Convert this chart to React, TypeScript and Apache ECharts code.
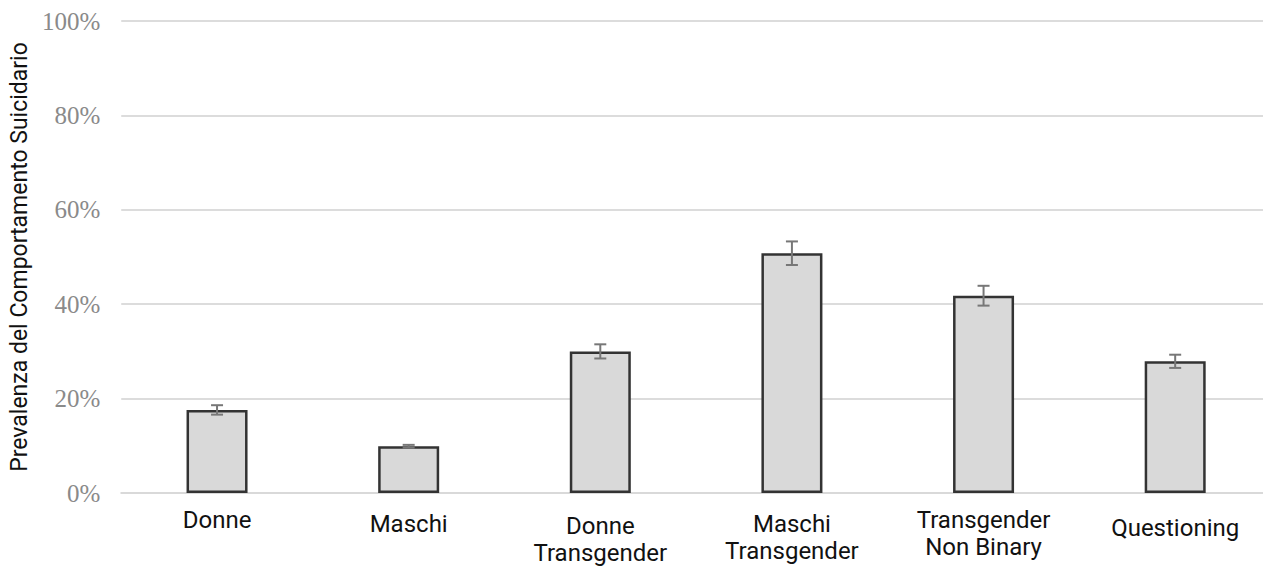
import React, { useEffect, useRef } from "react";
import * as echarts from "echarts";

// Prevalence of suicidal behaviour by group (%), with error margins
const categories = [
  "Donne",
  "Maschi",
  "Donne\nTransgender",
  "Maschi\nTransgender",
  "Transgender\nNon Binary",
  "Questioning",
];
const prevalence = [17.6, 9.9, 30.0, 50.8, 41.8, 27.9];
const errorMargin = [1.0, 0.3, 1.5, 2.5, 2.1, 1.4];
const yTicks = [0, 20, 40, 60, 80, 100];
// per-label vertical nudge of the category text
const labelNudge = [0, 4, 6, 4, 0, 8];

export default function App() {
  const ref = useRef<HTMLDivElement>(null);

  useEffect(() => {
    if (!ref.current) return;
    const chart = echarts.init(ref.current, null, { renderer: "svg" });

    const errorData = prevalence.map((v, i) => [i, v - errorMargin[i], v + errorMargin[i]]);

    chart.setOption({
      animation: false,
      backgroundColor: "#ffffff",
      grid: { left: 113, right: 9, top: 21, bottom: 69, containLabel: false },
      xAxis: {
        type: "category",
        data: categories.map((c, i) => ({
          value: c,
          textStyle: { padding: [labelNudge[i], 0, 0, 0] },
        })),
        axisLine: { show: true, lineStyle: { color: "#d9d9d9", width: 2 } },
        axisTick: { show: false },
        axisLabel: {
          interval: 0,
          margin: 13,
          fontFamily: "Roboto",
          fontSize: 24,
          lineHeight: 27,
          color: "#111111",
        },
      },
      yAxis: {
        type: "value",
        min: yTicks[0],
        max: yTicks[yTicks.length - 1],
        interval: 20,
        name: "Prevalenza del Comportamento Suicidario",
        nameLocation: "middle",
        nameGap: 81,
        nameTextStyle: { fontFamily: "Roboto", fontSize: 23, color: "#111111" },
        axisLine: { show: false },
        axisTick: { show: false },
        axisLabel: {
          formatter: "{value}%",
          fontFamily: "Liberation Serif",
          fontSize: 25,
          color: "#8a8a8a",
          margin: 21,
        },
        splitLine: { show: true, lineStyle: { color: "#dcdcdc", width: 2 } },
      },
      series: [
        {
          type: "bar",
          data: prevalence,
          barWidth: 61,
          itemStyle: { color: "#d9d9d9", borderColor: "#333333", borderWidth: 2.5 },
          z: 2,
        },
        {
          type: "custom",
          data: errorData,
          z: 3,
          renderItem: (params: any, api: any) => {
            const x = api.value(0);
            const lo = api.coord([x, api.value(1)]);
            const hi = api.coord([x, api.value(2)]);
            const half = 6;
            const style = { stroke: "#777777", lineWidth: 2 };
            return {
              type: "group",
              children: [
                { type: "line", shape: { x1: hi[0], y1: hi[1], x2: lo[0], y2: lo[1] }, style },
                { type: "line", shape: { x1: hi[0] - half, y1: hi[1], x2: hi[0] + half, y2: hi[1] }, style },
                { type: "line", shape: { x1: lo[0] - half, y1: lo[1], x2: lo[0] + half, y2: lo[1] }, style },
              ],
            };
          },
        },
      ],
    });

    return () => chart.dispose();
  }, []);

  return (
    <div
      style={{
        position: "fixed",
        left: 0,
        top: 0,
        width: 1263,
        height: 566,
        overflow: "hidden",
        background: "#ffffff",
      }}
    >
      <div ref={ref} style={{ width: 1280, height: 566 }} />
    </div>
  );
}
